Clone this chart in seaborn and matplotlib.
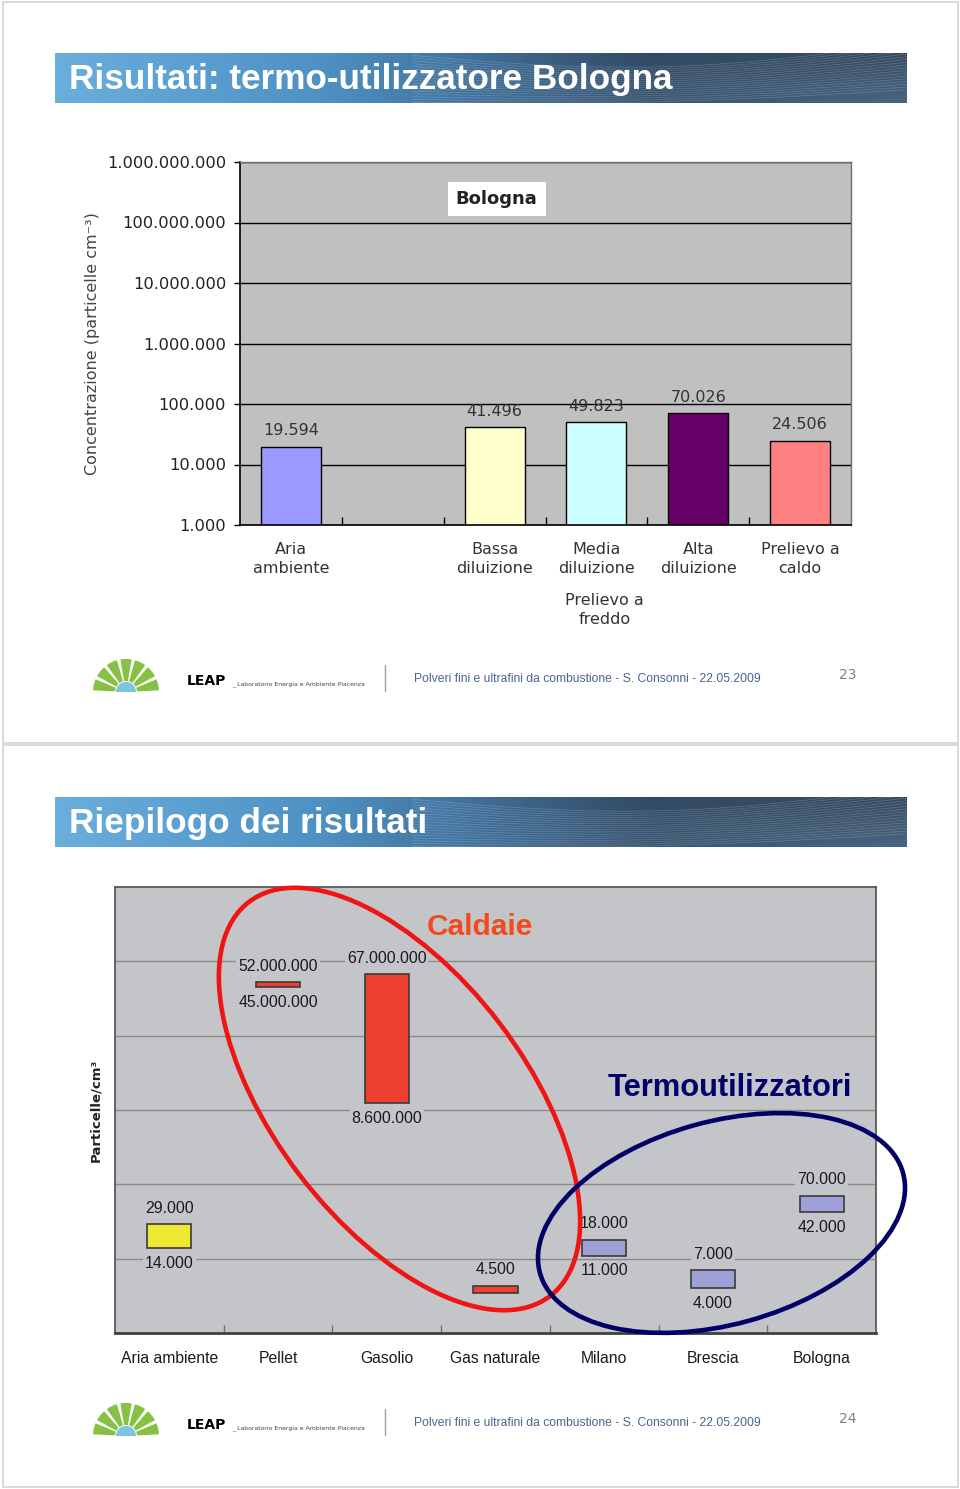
import numpy as np
import pandas as pd
import matplotlib
matplotlib.use("Agg")
import matplotlib.pyplot as plt
import matplotlib.transforms as mtrans
import seaborn as sns
from matplotlib.patches import Ellipse, Rectangle, Wedge
from matplotlib.ticker import FuncFormatter, FixedLocator, NullLocator

# ---------------- data: slide 23 ----------------
top_order = ["Aria\nambiente", " ", "Bassa\ndiluizione", "Media\ndiluizione",
             "Alta\ndiluizione", "Prelievo a\ncaldo"]
top_bar_categories = ["Aria\nambiente", "Bassa\ndiluizione", "Media\ndiluizione",
                      "Alta\ndiluizione", "Prelievo a\ncaldo"]
top_values = [19594, 41496, 49823, 70026, 24506]
top_colors = ["#9999FF", "#FFFFCC", "#CCFFFF", "#660066", "#FF8080"]
top_yticks = [1e3, 1e4, 1e5, 1e6, 1e7, 1e8, 1e9]
top_group_label = "Prelievo a\nfreddo"

# ---------------- data: slide 24 ----------------
bot_categories = ["Aria ambiente", "Pellet", "Gasolio", "Gas naturale",
                  "Milano", "Brescia", "Bologna"]
bot_low = [14000, 45000000, 1250000, 3500, 11000, 4000, 42000]
bot_high = [29000, 52000000, 67000000, 4300, 18000, 7000, 70000]
bot_high_labels = ["29.000", "52.000.000", "67.000.000", "4.500",
                   "18.000", "7.000", "70.000"]
bot_low_labels = ["14.000", "45.000.000", "8.600.000", "",
                  "11.000", "4.000", "42.000"]
bot_colors = ["#EFE832", "#EE4030", "#EE4030", "#EE4030",
              "#9FA0D8", "#9FA0D8", "#9FA0D8"]
bot_gridlines = [1e4, 1e5, 1e6, 1e7, 1e8]

sns.set_style("white")
plt.rcParams["font.family"] = ["DejaVu Sans"]

W, H = 960, 1489
fig = plt.figure(figsize=(W / 100, H / 100), dpi=100)
fig.patch.set_facecolor("white")

NARROW = ["Liberation Sans", "DejaVu Sans"]

# ---------------- background layer ----------------
bg = fig.add_axes([0, 0, 1, 1], zorder=-5)
bg.axis("off")


def hex2rgb(h):
    h = h.lstrip("#")
    return np.array([int(h[i:i + 2], 16) / 255 for i in (0, 2, 4)])


def draw_banner(ax, y_top, title):
    x0, x1, h = 55, 907, 50
    nx, ny = 400, 50
    xs = np.linspace(0, 1, nx)
    yy = np.linspace(0, 1, ny)[:, None]
    sx = [0, 0.3, 0.5, 0.7, 1.0]
    sc = [hex2rgb(c) for c in ["#6AAEDC", "#4F93C6", "#416F98", "#36506B", "#425B74"]]
    img = np.zeros((ny, nx, 3))
    for ch in range(3):
        img[:, :, ch] = np.interp(xs, sx, [c[ch] for c in sc])[None, :]
    ramp = np.clip((xs[None, :] - 0.45) / 0.55, 0, 1)
    shade = 1 - 0.18 * (1 - yy) * ramp + 0.12 * yy * ramp
    img = np.clip(img * shade[..., None], 0, 1)
    ax.imshow(img, extent=(x0, x1, y_top + h, y_top), aspect="auto",
              interpolation="bilinear", zorder=1)
    clip = Rectangle((x0, y_top), x1 - x0, h, transform=ax.transData, fc="none", ec="none")
    ax.add_patch(clip)
    t = np.linspace(0.0, 1.0, 200)
    for k in range(18):
        xx = x0 + (x1 - x0) * (0.42 + 0.58 * t)
        yv = y_top + h * (0.05 + 0.055 * k) + h * 0.35 * np.sin(np.pi * t) * (1 - 0.04 * k) - h * 0.25 * t
        ln, = ax.plot(xx, yv, color="white", lw=0.5, alpha=0.2, zorder=2)
        ln.set_clip_path(clip)
    ax.text(69, y_top + 26, title, color="white", fontsize=25.3, fontweight="bold",
            family=["Liberation Sans", "DejaVu Sans"], va="center", ha="left", zorder=3)


def draw_footer(ax, y_mid, page):
    cx, cy = 126, y_mid + 14
    n = 7
    span = 180 / n
    for i in range(n):
        t1 = 180 + i * span + 3
        t2 = 180 + (i + 1) * span - 3
        ax.add_patch(Wedge((cx, cy), 33, t1, t2, width=22, fc="#86C143", ec="none", zorder=2))
    ax.add_patch(Wedge((cx, cy), 10, 180, 360, fc="#7CC3E2", ec="none", zorder=3))
    ax.text(187, y_mid + 3, "LEAP", fontsize=10, fontweight="heavy", color="black",
            va="center", ha="left")
    ax.text(232, y_mid + 6, "_ Laboratorio Energia e Ambiente Piacenza", fontsize=4.4,
            color="#444444", va="center", ha="left")
    ax.plot([385, 385], [y_mid - 13, y_mid + 13], color="#A0A0A0", lw=1)
    ax.text(414, y_mid + 1, "Polveri fini e ultrafini da combustione - S. Consonni - 22.05.2009",
            fontsize=8.7, color="#4A6590", family=["Liberation Sans", "DejaVu Sans"],
            va="center", ha="left")
    ax.text(848, y_mid - 3, page, fontsize=10, color="#808080", va="center", ha="center")


# slide borders
bg.add_patch(Rectangle((2.5, 1.5), 955, 741.5, fill=False, ec="#D2D2D2", lw=1.2))
bg.add_patch(Rectangle((2.5, 745), 955, 741.5, fill=False, ec="#D2D2D2", lw=1.2))
draw_banner(bg, 53, "Risultati: termo-utilizzatore Bologna")
draw_banner(bg, 797, "Riepilogo dei risultati")
draw_footer(bg, 678, "23")
draw_footer(bg, 1422, "24")
bg.set_xlim(0, W)
bg.set_ylim(H, 0)

# ---------------- top chart ----------------
ax1 = fig.add_axes([240 / W, 1 - 525 / H, 611 / W, 363 / H])
ax1.set_yscale("log")
df_top = pd.DataFrame({"cat": top_bar_categories, "val": top_values})
sns.barplot(data=df_top, x="cat", y="val", order=top_order, ax=ax1, width=0.59,
            color=top_colors[0], saturation=1, errorbar=None,
            edgecolor="black", linewidth=1.0)
for p, c in zip(ax1.patches, top_colors):
    p.set_facecolor(c)
ax1.set_facecolor("#C0C0C0")
ax1.set_ylim(top_yticks[0], top_yticks[-1])
ax1.set_xlim(-0.5, len(top_order) - 0.5)
ax1.yaxis.set_major_locator(FixedLocator(top_yticks))
ax1.yaxis.set_minor_locator(NullLocator())
ax1.yaxis.set_major_formatter(FuncFormatter(lambda v, _: f"{int(round(v)):,}".replace(",", ".")))
ax1.grid(axis="y", color="black", lw=1.0)
ax1.set_axisbelow(True)
ax1.set_xticks(range(len(top_order)))
ax1.set_xticklabels(top_order)
ax1.xaxis.set_minor_locator(FixedLocator(np.arange(0.5, len(top_order) - 1, 1.0)))
ax1.tick_params(axis="x", which="major", length=0, pad=12.5, labelsize=11.5, labelcolor="#333333")
ax1.tick_params(axis="x", which="minor", direction="in", length=6, width=1, color="black", bottom=True)
ax1.tick_params(axis="y", which="major", direction="out", length=4, width=1, color="black",
                pad=6, labelsize=11.7, labelcolor="#222222", left=True)
for lbl in ax1.get_xticklabels():
    lbl.set_linespacing(1.3)
ax1.set_xlabel("")
ax1.set_ylabel("Concentrazione (particelle cm⁻³)", fontsize=11.5, color="#444444", labelpad=5)
for side in ["left", "bottom"]:
    ax1.spines[side].set_color("black")
    ax1.spines[side].set_linewidth(1.2)
for side in ["top", "right"]:
    ax1.spines[side].set_color("#707070")
    ax1.spines[side].set_linewidth(1.0)
for p in ax1.patches:
    v = p.get_height()
    ax1.annotate(f"{int(round(v)):,}".replace(",", "."), (p.get_x() + p.get_width() / 2, v),
                 xytext=(0, 11.5), textcoords="offset points", ha="center", va="center",
                 fontsize=11.5, color="#333333")
ax1.text(0.42, 0.898, "Bologna", transform=ax1.transAxes, ha="center", va="center",
         fontsize=13, fontweight="bold", color="#222222",
         bbox=dict(boxstyle="square,pad=0.45", fc="white", ec="none"))
blend = mtrans.blended_transform_factory(ax1.transData, ax1.transAxes)
ax1.text(top_order.index("Media\ndiluizione") + 0.08, -0.235, top_group_label, transform=blend,
         ha="center", va="center", fontsize=11.5, color="#333333", linespacing=1.35)

# ---------------- bottom chart ----------------
BG2 = "#C3C5C8"
ax2 = fig.add_axes([115 / W, 1 - 1333 / H, 761 / W, 446 / H])
ax2.set_yscale("log")
df_bot = pd.DataFrame({"cat": bot_categories,
                       "span": np.array(bot_high, dtype=float) - np.array(bot_low, dtype=float)})
sns.barplot(data=df_bot, x="cat", y="span", order=bot_categories, ax=ax2, width=0.405,
            bottom=np.array(bot_low, dtype=float), color=bot_colors[0], saturation=1,
            errorbar=None, edgecolor="#3A3A3A", linewidth=1.2)
for p, c in zip(ax2.patches, bot_colors):
    p.set_facecolor(c)
ax2.set_facecolor(BG2)
ax2.set_ylim(1e3, 1e9)
ax2.set_xlim(-0.5, len(bot_categories) - 0.5)
ax2.yaxis.set_major_locator(FixedLocator(bot_gridlines))
ax2.yaxis.set_minor_locator(NullLocator())
ax2.tick_params(axis="y", which="both", length=0, labelleft=False)
ax2.grid(axis="y", color="#8A8A8A", lw=1.0)
ax2.set_axisbelow(True)
ax2.set_xticks(range(len(bot_categories)))
ax2.set_xticklabels(bot_categories, family=NARROW)
ax2.xaxis.set_minor_locator(FixedLocator(np.arange(0.5, len(bot_categories) - 1, 1.0)))
ax2.tick_params(axis="x", which="major", length=0, pad=13, labelsize=11.3, labelcolor="#1A1A1A")
ax2.tick_params(axis="x", which="minor", direction="in", length=6, width=1, color="#707070", bottom=True)
ax2.set_xlabel("")
ax2.set_ylabel("Particelle/cm³", fontsize=9.5, fontweight="bold", color="#222222", labelpad=9)
for side in ["left", "top", "right"]:
    ax2.spines[side].set_color("#505050")
    ax2.spines[side].set_linewidth(1.2)
ax2.spines["bottom"].set_color("#404040")
ax2.spines["bottom"].set_linewidth(2.0)
lab_box = dict(boxstyle="square,pad=0.12", fc=BG2, ec="none")
for p, hl, ll in zip(ax2.patches, bot_high_labels, bot_low_labels):
    xc = p.get_x() + p.get_width() / 2
    y0 = p.get_y()
    y1 = y0 + p.get_height()
    if hl:
        ax2.annotate(hl, (xc, y1), xytext=(0, 11.5), textcoords="offset points", ha="center",
                     va="center", fontsize=11.4, color="#1A1A1A", family=NARROW, bbox=lab_box)
    if ll:
        ax2.annotate(ll, (xc, y0), xytext=(0, -11), textcoords="offset points", ha="center",
                     va="center", fontsize=11.4, color="#1A1A1A", family=NARROW, bbox=lab_box)
ax2.text(0.48, 0.91, "Caldaie", transform=ax2.transAxes, ha="center", va="center",
         fontsize=21.5, fontweight="bold", color="#F04A1E", family=NARROW)
ax2.text(0.808, 0.549, "Termoutilizzatori", transform=ax2.transAxes, ha="center", va="center",
         fontsize=22.2, fontweight="bold", color="#000066", family=NARROW)

# ---------------- foreground (hand-drawn ellipses) ----------------
fg = fig.add_axes([0, 0, 1, 1], zorder=10)
fg.axis("off")
fg.set_xlim(0, W)
fg.set_ylim(H, 0)
fg.add_patch(Ellipse((399.5, 1099), width=496, height=251, angle=52.6, fill=False,
                     ec="#F01414", lw=3.3))
fg.add_patch(Ellipse((721.5, 1223), width=376.6, height=203, angle=-15.4, fill=False,
                     ec="#000066", lw=3.3))

fig.savefig("out.png", dpi=100, facecolor="white")
